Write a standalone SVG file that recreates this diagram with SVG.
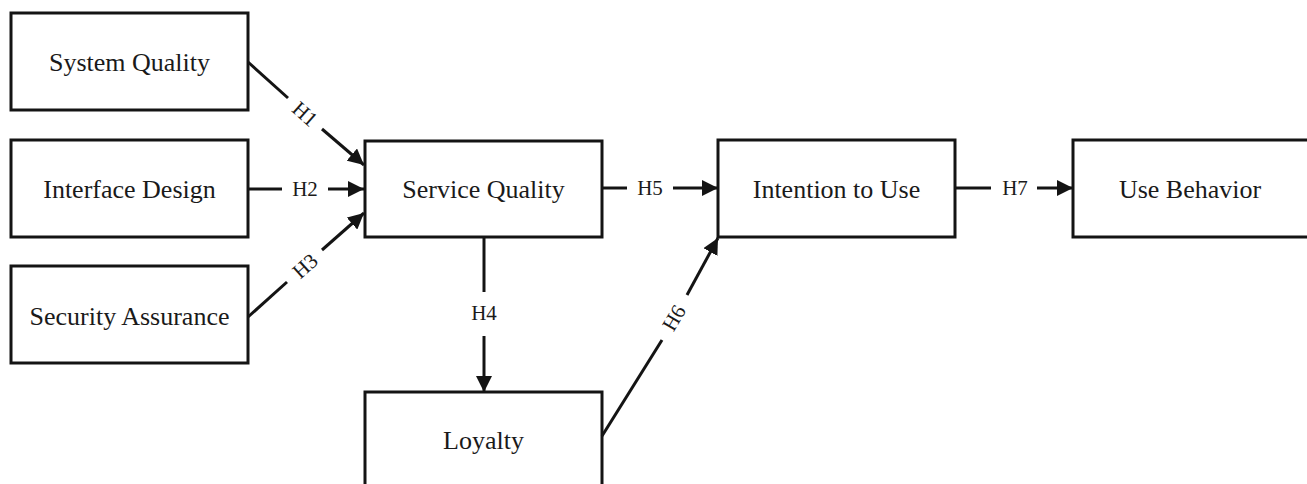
<svg xmlns="http://www.w3.org/2000/svg" width="1307" height="484" viewBox="0 0 1307 484">
<style>
.box{fill:#fff;stroke:#141414;stroke-width:3}
.lbl{font-family:"Liberation Serif","Times New Roman",serif;font-size:26px;fill:#1a1a1a;text-anchor:middle}
.h{font-family:"Liberation Serif","Times New Roman",serif;font-size:21px;fill:#1a1a1a;text-anchor:middle}
.ln{stroke:#141414;stroke-width:3;fill:none}
</style>
<defs>
<marker id="ah" markerUnits="userSpaceOnUse" markerWidth="17" markerHeight="16" refX="16" refY="8" orient="auto">
<path d="M0,0 L16,8 L0,16 z" fill="#141414"/>
</marker>
</defs>
<rect width="1307" height="484" fill="#fff"/>
<g id="system-quality"><rect class="box" x="11" y="13" width="237" height="97"/><text class="lbl" x="129.5" y="71">System Quality</text></g>
<g id="interface-design"><rect class="box" x="11" y="140" width="237" height="97"/><text class="lbl" x="129.5" y="198">Interface Design</text></g>
<g id="security-assurance"><rect class="box" x="11" y="266" width="237" height="97"/><text class="lbl" x="129.5" y="325">Security Assurance</text></g>
<g id="service-quality"><rect class="box" x="365" y="141" width="237" height="96"/><text class="lbl" x="483.5" y="198">Service Quality</text></g>
<g id="loyalty"><rect class="box" x="365" y="392" width="237" height="110"/><text class="lbl" x="483.5" y="449">Loyalty</text></g>
<g id="intention-to-use"><rect class="box" x="718" y="140" width="237" height="97"/><text class="lbl" x="836.5" y="198">Intention to Use</text></g>
<g id="use-behavior"><rect class="box" x="1073" y="140" width="250" height="97"/><text class="lbl" x="1190" y="198">Use Behavior</text></g>
<g id="connectors">
<line class="ln" x1="248" y1="62" x2="288" y2="98"/>
<line class="ln" x1="322" y1="129" x2="364" y2="165" marker-end="url(#ah)"/>
<text class="h" transform="translate(305,114) rotate(41.6)" y="7">H1</text>
<line class="ln" x1="248" y1="189" x2="282" y2="189"/>
<line class="ln" x1="328" y1="189" x2="364" y2="189" marker-end="url(#ah)"/>
<text class="h" x="305" y="196">H2</text>
<line class="ln" x1="248" y1="317" x2="287" y2="282"/>
<line class="ln" x1="322" y1="250" x2="364" y2="213" marker-end="url(#ah)"/>
<text class="h" transform="translate(305,266) rotate(-41.9)" y="7">H3</text>
<line class="ln" x1="484" y1="237" x2="484" y2="292"/>
<line class="ln" x1="484" y1="336" x2="484" y2="392" marker-end="url(#ah)"/>
<text class="h" x="484" y="320">H4</text>
<line class="ln" x1="602" y1="188" x2="627" y2="188"/>
<line class="ln" x1="673" y1="188" x2="718" y2="188" marker-end="url(#ah)"/>
<text class="h" x="650" y="195">H5</text>
<line class="ln" x1="602" y1="436" x2="662" y2="340"/>
<line class="ln" x1="687" y1="295" x2="718" y2="238" marker-end="url(#ah)"/>
<text class="h" transform="translate(674,318) rotate(-59.5)" y="7">H6</text>
<line class="ln" x1="955" y1="188" x2="991" y2="188"/>
<line class="ln" x1="1037" y1="188" x2="1073" y2="188" marker-end="url(#ah)"/>
<text class="h" x="1015" y="195">H7</text>
</g>
</svg>
